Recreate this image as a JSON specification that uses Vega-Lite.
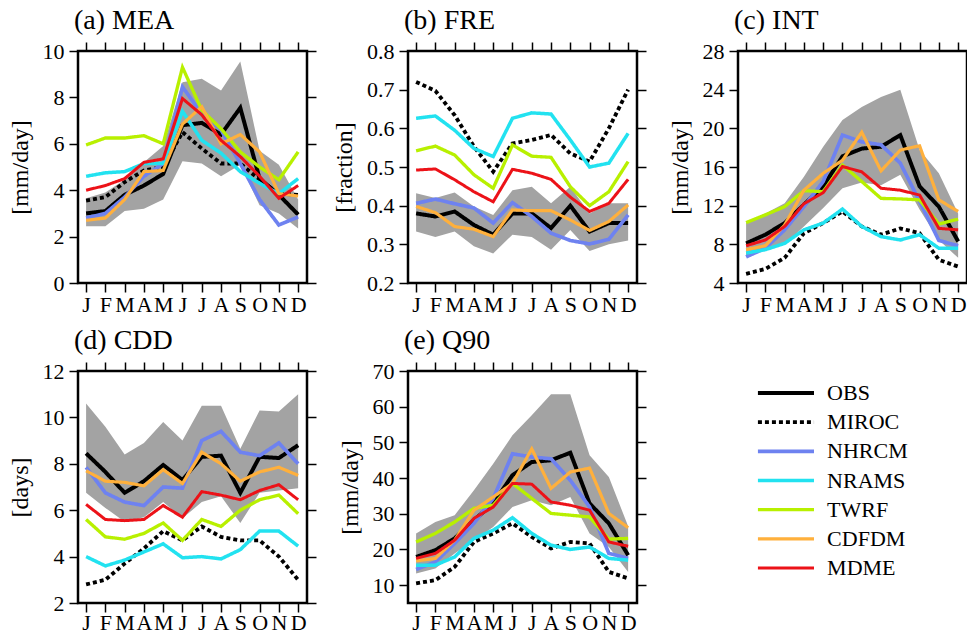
{
"$schema": "https://vega.github.io/schema/vega-lite/v6.json",
"background": "white",
"padding": {"left": 6, "top": 5, "right": 0, "bottom": 0},
"datasets": {"d": [
{"p":"a","m":1,"OBS":3.0,"MIROC":3.55,"NHRCM":2.8,"NRAMS":4.6,"TWRF":5.95,"CDFDM":2.7,"MDME":4.0,"lo":2.45,"hi":3.65},
{"p":"a","m":2,"OBS":3.1,"MIROC":3.7,"NHRCM":3.0,"NRAMS":4.75,"TWRF":6.25,"CDFDM":2.8,"MDME":4.2,"lo":2.45,"hi":3.9},
{"p":"a","m":3,"OBS":3.8,"MIROC":4.35,"NHRCM":3.7,"NRAMS":4.8,"TWRF":6.25,"CDFDM":3.6,"MDME":4.5,"lo":3.1,"hi":4.45},
{"p":"a","m":4,"OBS":4.2,"MIROC":4.85,"NHRCM":4.6,"NRAMS":5.15,"TWRF":6.35,"CDFDM":4.8,"MDME":5.2,"lo":3.2,"hi":5.2},
{"p":"a","m":5,"OBS":4.7,"MIROC":5.0,"NHRCM":5.15,"NRAMS":5.15,"TWRF":6.0,"CDFDM":4.85,"MDME":5.35,"lo":3.6,"hi":5.9},
{"p":"a","m":6,"OBS":6.8,"MIROC":6.5,"NHRCM":8.45,"NRAMS":7.4,"TWRF":9.3,"CDFDM":6.85,"MDME":7.95,"lo":5.25,"hi":8.65},
{"p":"a","m":7,"OBS":6.9,"MIROC":5.8,"NHRCM":7.3,"NRAMS":6.15,"TWRF":7.45,"CDFDM":7.6,"MDME":7.25,"lo":5.15,"hi":8.8},
{"p":"a","m":8,"OBS":6.4,"MIROC":5.15,"NHRCM":6.6,"NRAMS":5.6,"TWRF":6.65,"CDFDM":6.0,"MDME":6.15,"lo":4.6,"hi":8.3},
{"p":"a","m":9,"OBS":7.55,"MIROC":5.15,"NHRCM":5.15,"NRAMS":4.8,"TWRF":5.65,"CDFDM":6.4,"MDME":5.45,"lo":5.1,"hi":9.55},
{"p":"a","m":10,"OBS":4.5,"MIROC":4.45,"NHRCM":3.6,"NRAMS":4.3,"TWRF":5.0,"CDFDM":5.65,"MDME":4.6,"lo":3.35,"hi":5.7},
{"p":"a","m":11,"OBS":3.8,"MIROC":3.85,"NHRCM":2.5,"NRAMS":3.85,"TWRF":4.45,"CDFDM":3.85,"MDME":3.65,"lo":3.0,"hi":5.1},
{"p":"a","m":12,"OBS":2.95,"MIROC":3.8,"NHRCM":2.85,"NRAMS":4.5,"TWRF":5.65,"CDFDM":3.75,"MDME":4.2,"lo":2.35,"hi":3.6},
{"p":"b","m":1,"OBS":0.38,"MIROC":0.72,"NHRCM":0.406,"NRAMS":0.626,"TWRF":0.542,"CDFDM":0.398,"MDME":0.492,"lo":0.333,"hi":0.432},
{"p":"b","m":2,"OBS":0.372,"MIROC":0.697,"NHRCM":0.417,"NRAMS":0.632,"TWRF":0.554,"CDFDM":0.382,"MDME":0.495,"lo":0.319,"hi":0.42},
{"p":"b","m":3,"OBS":0.385,"MIROC":0.634,"NHRCM":0.405,"NRAMS":0.595,"TWRF":0.531,"CDFDM":0.346,"MDME":0.467,"lo":0.333,"hi":0.434},
{"p":"b","m":4,"OBS":0.35,"MIROC":0.553,"NHRCM":0.394,"NRAMS":0.548,"TWRF":0.48,"CDFDM":0.339,"MDME":0.436,"lo":0.295,"hi":0.398},
{"p":"b","m":5,"OBS":0.325,"MIROC":0.488,"NHRCM":0.355,"NRAMS":0.527,"TWRF":0.445,"CDFDM":0.32,"MDME":0.41,"lo":0.276,"hi":0.376},
{"p":"b","m":6,"OBS":0.38,"MIROC":0.561,"NHRCM":0.408,"NRAMS":0.626,"TWRF":0.557,"CDFDM":0.389,"MDME":0.494,"lo":0.325,"hi":0.44},
{"p":"b","m":7,"OBS":0.38,"MIROC":0.57,"NHRCM":0.372,"NRAMS":0.64,"TWRF":0.528,"CDFDM":0.387,"MDME":0.484,"lo":0.319,"hi":0.449},
{"p":"b","m":8,"OBS":0.342,"MIROC":0.583,"NHRCM":0.329,"NRAMS":0.637,"TWRF":0.525,"CDFDM":0.387,"MDME":0.468,"lo":0.286,"hi":0.406},
{"p":"b","m":9,"OBS":0.4,"MIROC":0.535,"NHRCM":0.31,"NRAMS":0.57,"TWRF":0.449,"CDFDM":0.363,"MDME":0.422,"lo":0.337,"hi":0.449},
{"p":"b","m":10,"OBS":0.333,"MIROC":0.514,"NHRCM":0.301,"NRAMS":0.5,"TWRF":0.4,"CDFDM":0.336,"MDME":0.385,"lo":0.283,"hi":0.38},
{"p":"b","m":11,"OBS":0.355,"MIROC":0.6,"NHRCM":0.313,"NRAMS":0.51,"TWRF":0.436,"CDFDM":0.359,"MDME":0.406,"lo":0.3,"hi":0.406},
{"p":"b","m":12,"OBS":0.355,"MIROC":0.7,"NHRCM":0.376,"NRAMS":0.587,"TWRF":0.514,"CDFDM":0.402,"MDME":0.468,"lo":0.31,"hi":0.406},
{"p":"c","m":1,"OBS":8.1,"MIROC":4.95,"NHRCM":6.7,"NRAMS":7.1,"TWRF":10.25,"CDFDM":7.45,"MDME":7.85,"lo":6.75,"hi":10.2},
{"p":"c","m":2,"OBS":9.0,"MIROC":5.45,"NHRCM":7.6,"NRAMS":7.45,"TWRF":11.05,"CDFDM":7.85,"MDME":8.45,"lo":7.45,"hi":11.2},
{"p":"c","m":3,"OBS":10.2,"MIROC":6.6,"NHRCM":9.5,"NRAMS":8.1,"TWRF":11.9,"CDFDM":10.0,"MDME":9.85,"lo":7.95,"hi":12.25},
{"p":"c","m":4,"OBS":12.1,"MIROC":9.15,"NHRCM":11.9,"NRAMS":9.5,"TWRF":13.55,"CDFDM":13.6,"MDME":12.2,"lo":9.85,"hi":15.0},
{"p":"c","m":5,"OBS":14.0,"MIROC":10.2,"NHRCM":14.5,"NRAMS":10.2,"TWRF":13.45,"CDFDM":15.35,"MDME":13.35,"lo":11.75,"hi":18.1},
{"p":"c","m":6,"OBS":17.1,"MIROC":11.4,"NHRCM":19.3,"NRAMS":11.65,"TWRF":16.2,"CDFDM":16.7,"MDME":16.05,"lo":13.8,"hi":20.85},
{"p":"c","m":7,"OBS":17.9,"MIROC":9.85,"NHRCM":18.6,"NRAMS":9.85,"TWRF":14.5,"CDFDM":19.6,"MDME":15.5,"lo":14.4,"hi":22.2},
{"p":"c","m":8,"OBS":18.1,"MIROC":9.0,"NHRCM":18.3,"NRAMS":8.8,"TWRF":12.75,"CDFDM":15.6,"MDME":13.8,"lo":14.1,"hi":23.25},
{"p":"c","m":9,"OBS":19.3,"MIROC":9.65,"NHRCM":16.4,"NRAMS":8.45,"TWRF":12.7,"CDFDM":17.75,"MDME":13.6,"lo":15.2,"hi":24.0},
{"p":"c","m":10,"OBS":14.0,"MIROC":9.15,"NHRCM":12.45,"NRAMS":9.0,"TWRF":12.6,"CDFDM":18.2,"MDME":13.1,"lo":11.6,"hi":17.75},
{"p":"c","m":11,"OBS":11.9,"MIROC":6.4,"NHRCM":8.4,"NRAMS":7.6,"TWRF":10.1,"CDFDM":12.6,"MDME":9.65,"lo":8.45,"hi":15.35},
{"p":"c","m":12,"OBS":8.3,"MIROC":5.7,"NHRCM":7.85,"NRAMS":7.6,"TWRF":10.6,"CDFDM":11.4,"MDME":9.5,"lo":6.6,"hi":11.2},
{"p":"d","m":1,"OBS":8.45,"MIROC":2.8,"NHRCM":7.85,"NRAMS":4.0,"TWRF":5.6,"CDFDM":7.7,"MDME":6.25,"lo":6.75,"hi":10.6},
{"p":"d","m":2,"OBS":7.65,"MIROC":3.0,"NHRCM":6.75,"NRAMS":3.6,"TWRF":4.85,"CDFDM":7.25,"MDME":5.6,"lo":6.1,"hi":9.6},
{"p":"d","m":3,"OBS":6.75,"MIROC":3.7,"NHRCM":6.35,"NRAMS":3.85,"TWRF":4.75,"CDFDM":7.2,"MDME":5.55,"lo":5.5,"hi":8.4},
{"p":"d","m":4,"OBS":7.25,"MIROC":4.35,"NHRCM":6.2,"NRAMS":4.2,"TWRF":5.0,"CDFDM":7.05,"MDME":5.6,"lo":5.7,"hi":8.9},
{"p":"d","m":5,"OBS":7.95,"MIROC":5.1,"NHRCM":7.0,"NRAMS":4.55,"TWRF":5.45,"CDFDM":7.75,"MDME":6.2,"lo":6.35,"hi":9.8},
{"p":"d","m":6,"OBS":7.3,"MIROC":4.7,"NHRCM":6.95,"NRAMS":3.95,"TWRF":4.7,"CDFDM":7.15,"MDME":5.7,"lo":5.65,"hi":9.0},
{"p":"d","m":7,"OBS":8.3,"MIROC":5.3,"NHRCM":9.0,"NRAMS":4.0,"TWRF":5.6,"CDFDM":8.5,"MDME":6.8,"lo":6.35,"hi":10.5},
{"p":"d","m":8,"OBS":8.35,"MIROC":4.85,"NHRCM":9.4,"NRAMS":3.9,"TWRF":5.3,"CDFDM":8.0,"MDME":6.65,"lo":6.6,"hi":10.5},
{"p":"d","m":9,"OBS":6.75,"MIROC":4.7,"NHRCM":8.5,"NRAMS":4.3,"TWRF":6.0,"CDFDM":7.25,"MDME":6.45,"lo":5.45,"hi":8.65},
{"p":"d","m":10,"OBS":8.3,"MIROC":4.7,"NHRCM":8.35,"NRAMS":5.1,"TWRF":6.45,"CDFDM":7.65,"MDME":6.85,"lo":6.75,"hi":10.3},
{"p":"d","m":11,"OBS":8.25,"MIROC":4.0,"NHRCM":8.9,"NRAMS":5.1,"TWRF":6.65,"CDFDM":7.85,"MDME":7.1,"lo":6.85,"hi":10.25},
{"p":"d","m":12,"OBS":8.8,"MIROC":3.0,"NHRCM":8.0,"NRAMS":4.45,"TWRF":5.85,"CDFDM":7.5,"MDME":6.45,"lo":6.95,"hi":11.0},
{"p":"e","m":1,"OBS":17.9,"MIROC":10.5,"NHRCM":14.4,"NRAMS":15.6,"TWRF":22.1,"CDFDM":16.8,"MDME":17.5,"lo":13.3,"hi":24.5},
{"p":"e","m":2,"OBS":19.8,"MIROC":11.4,"NHRCM":16.5,"NRAMS":15.6,"TWRF":24.5,"CDFDM":17.5,"MDME":18.9,"lo":14.7,"hi":27.7},
{"p":"e","m":3,"OBS":23.1,"MIROC":15.1,"NHRCM":21.7,"NRAMS":17.9,"TWRF":27.7,"CDFDM":22.6,"MDME":22.6,"lo":18.9,"hi":29.6},
{"p":"e","m":4,"OBS":28.2,"MIROC":22.1,"NHRCM":27.3,"NRAMS":23.1,"TWRF":31.5,"CDFDM":31.0,"MDME":28.7,"lo":22.6,"hi":36.6},
{"p":"e","m":5,"OBS":32.9,"MIROC":24.5,"NHRCM":34.3,"NRAMS":25.4,"TWRF":32.4,"CDFDM":34.7,"MDME":31.9,"lo":26.3,"hi":44.0},
{"p":"e","m":6,"OBS":40.8,"MIROC":27.3,"NHRCM":46.8,"NRAMS":28.9,"TWRF":38.5,"CDFDM":38.5,"MDME":38.5,"lo":31.9,"hi":52.0},
{"p":"e","m":7,"OBS":44.5,"MIROC":23.5,"NHRCM":45.9,"NRAMS":24.5,"TWRF":34.3,"CDFDM":48.2,"MDME":38.3,"lo":33.8,"hi":57.6},
{"p":"e","m":8,"OBS":45.0,"MIROC":20.3,"NHRCM":45.4,"NRAMS":21.2,"TWRF":30.1,"CDFDM":37.1,"MDME":33.3,"lo":32.4,"hi":63.5},
{"p":"e","m":9,"OBS":47.1,"MIROC":22.1,"NHRCM":39.4,"NRAMS":20.0,"TWRF":29.6,"CDFDM":41.7,"MDME":32.4,"lo":34.7,"hi":63.5},
{"p":"e","m":10,"OBS":32.9,"MIROC":21.7,"NHRCM":31.9,"NRAMS":20.7,"TWRF":29.1,"CDFDM":42.8,"MDME":31.0,"lo":24.5,"hi":46.4},
{"p":"e","m":11,"OBS":27.3,"MIROC":13.7,"NHRCM":18.9,"NRAMS":17.5,"TWRF":22.9,"CDFDM":30.1,"MDME":22.1,"lo":20.7,"hi":40.3},
{"p":"e","m":12,"OBS":18.4,"MIROC":11.9,"NHRCM":17.5,"NRAMS":17.0,"TWRF":23.1,"CDFDM":26.1,"MDME":20.9,"lo":13.7,"hi":26.5}
],
"leg": [
{"series":"OBS","i":0},{"series":"MIROC","i":1},{"series":"NHRCM","i":2},{"series":"NRAMS","i":3},{"series":"TWRF","i":4},{"series":"CDFDM","i":5},{"series":"MDME","i":6}
]},
"data": {"name": "d"},
"columns": 3,
"bounds": "flush",
"spacing": {"row": 88, "column": 101},
"concat": [
{"title": {"text": "(a) MEA"}, "width": 229, "height": 232,
 "transform": [{"filter": "datum.p == 'a'"}],
 "layer": [
  {"mark": {"type": "area", "color": "#a3a3a3", "opacity": 1},
   "encoding": {
    "x": {"field": "m", "type": "quantitative", "scale": {"domain": [0.58, 12.46], "nice": false, "zero": false}, "axis": {"orient": "bottom", "values": [1,2,3,4,5,6,7,8,9,10,11,12], "labelExpr": "['J','F','M','A','M','J','J','A','S','O','N','D'][datum.value-1]", "title": null, "labelPadding": 2}},
    "y": {"field": "lo", "type": "quantitative", "scale": {"domain": [0, 10], "nice": false, "zero": false}, "axis": {"orient": "left", "values": [0,2,4,6,8,10], "title": "[mm/day]"}},
    "y2": {"field": "hi"}}},
  {"transform": [{"fold": ["OBS","MIROC","NHRCM","NRAMS","TWRF","CDFDM","MDME"], "as": ["series","value"]}],
   "mark": {"type": "line"},
   "encoding": {
    "x": {"field": "m", "type": "quantitative", "axis": {"orient": "top", "values": [1,2,3,4,5,6,7,8,9,10,11,12], "labels": false, "title": null}},
    "y": {"field": "value", "type": "quantitative", "axis": {"orient": "right", "values": [0,2,4,6,8,10], "labels": false, "title": null}},
    "color": {"field": "series", "type": "nominal", "scale": {"domain": ["OBS","MIROC","NHRCM","NRAMS","TWRF","CDFDM","MDME"], "range": ["#000000","#000000","#6e82f0","#22e2f0","#b8f000","#ffb03c","#ec1218"]}, "legend": null},
    "strokeDash": {"field": "series", "type": "nominal", "scale": {"domain": ["OBS","MIROC","NHRCM","NRAMS","TWRF","CDFDM","MDME"], "range": [[1,0],[4,3],[1,0],[1,0],[1,0],[1,0],[1,0]]}, "legend": null},
    "strokeWidth": {"field": "series", "type": "nominal", "scale": {"domain": ["OBS","MIROC","NHRCM","NRAMS","TWRF","CDFDM","MDME"], "range": [4,3,2.6,2.6,2.6,2.6,2.6]}, "legend": null}}}
 ],
 "resolve": {"axis": {"x": "independent", "y": "independent"}}},
{"title": {"text": "(b) FRE"}, "width": 229, "height": 232,
 "transform": [{"filter": "datum.p == 'b'"}],
 "layer": [
  {"mark": {"type": "area", "color": "#a3a3a3", "opacity": 1},
   "encoding": {
    "x": {"field": "m", "type": "quantitative", "scale": {"domain": [0.58, 12.46], "nice": false, "zero": false}, "axis": {"orient": "bottom", "values": [1,2,3,4,5,6,7,8,9,10,11,12], "labelExpr": "['J','F','M','A','M','J','J','A','S','O','N','D'][datum.value-1]", "title": null, "labelPadding": 2}},
    "y": {"field": "lo", "type": "quantitative", "scale": {"domain": [0.2, 0.8], "nice": false, "zero": false}, "axis": {"orient": "left", "values": [0.2,0.3,0.4,0.5,0.6,0.7,0.8], "format": ".1f", "title": "[fraction]"}},
    "y2": {"field": "hi"}}},
  {"transform": [{"fold": ["OBS","MIROC","NHRCM","NRAMS","TWRF","CDFDM","MDME"], "as": ["series","value"]}],
   "mark": {"type": "line"},
   "encoding": {
    "x": {"field": "m", "type": "quantitative", "axis": {"orient": "top", "values": [1,2,3,4,5,6,7,8,9,10,11,12], "labels": false, "title": null}},
    "y": {"field": "value", "type": "quantitative", "axis": {"orient": "right", "values": [0.2,0.3,0.4,0.5,0.6,0.7,0.8], "labels": false, "title": null}},
    "color": {"field": "series", "type": "nominal", "legend": null},
    "strokeDash": {"field": "series", "type": "nominal", "legend": null},
    "strokeWidth": {"field": "series", "type": "nominal", "legend": null}}}
 ],
 "resolve": {"axis": {"x": "independent", "y": "independent"}}},
{"title": {"text": "(c) INT"}, "width": 229, "height": 232,
 "transform": [{"filter": "datum.p == 'c'"}],
 "layer": [
  {"mark": {"type": "area", "color": "#a3a3a3", "opacity": 1},
   "encoding": {
    "x": {"field": "m", "type": "quantitative", "scale": {"domain": [0.58, 12.46], "nice": false, "zero": false}, "axis": {"orient": "bottom", "values": [1,2,3,4,5,6,7,8,9,10,11,12], "labelExpr": "['J','F','M','A','M','J','J','A','S','O','N','D'][datum.value-1]", "title": null, "labelPadding": 2}},
    "y": {"field": "lo", "type": "quantitative", "scale": {"domain": [4, 28], "nice": false, "zero": false}, "axis": {"orient": "left", "values": [4,8,12,16,20,24,28], "title": "[mm/day]"}},
    "y2": {"field": "hi"}}},
  {"transform": [{"fold": ["OBS","MIROC","NHRCM","NRAMS","TWRF","CDFDM","MDME"], "as": ["series","value"]}],
   "mark": {"type": "line"},
   "encoding": {
    "x": {"field": "m", "type": "quantitative", "axis": {"orient": "top", "values": [1,2,3,4,5,6,7,8,9,10,11,12], "labels": false, "title": null}},
    "y": {"field": "value", "type": "quantitative", "axis": {"orient": "right", "values": [4,8,12,16,20,24,28], "labels": false, "title": null}},
    "color": {"field": "series", "type": "nominal", "legend": null},
    "strokeDash": {"field": "series", "type": "nominal", "legend": null},
    "strokeWidth": {"field": "series", "type": "nominal", "legend": null}}}
 ],
 "resolve": {"axis": {"x": "independent", "y": "independent"}}},
{"title": {"text": "(d) CDD"}, "width": 229, "height": 232,
 "transform": [{"filter": "datum.p == 'd'"}],
 "layer": [
  {"mark": {"type": "area", "color": "#a3a3a3", "opacity": 1},
   "encoding": {
    "x": {"field": "m", "type": "quantitative", "scale": {"domain": [0.58, 12.46], "nice": false, "zero": false}, "axis": {"orient": "bottom", "values": [1,2,3,4,5,6,7,8,9,10,11,12], "labelExpr": "['J','F','M','A','M','J','J','A','S','O','N','D'][datum.value-1]", "title": null, "labelPadding": 0}},
    "y": {"field": "lo", "type": "quantitative", "scale": {"domain": [2, 12], "nice": false, "zero": false}, "axis": {"orient": "left", "values": [2,4,6,8,10,12], "title": "[days]"}},
    "y2": {"field": "hi"}}},
  {"transform": [{"fold": ["OBS","MIROC","NHRCM","NRAMS","TWRF","CDFDM","MDME"], "as": ["series","value"]}],
   "mark": {"type": "line"},
   "encoding": {
    "x": {"field": "m", "type": "quantitative", "axis": {"orient": "top", "values": [1,2,3,4,5,6,7,8,9,10,11,12], "labels": false, "title": null}},
    "y": {"field": "value", "type": "quantitative", "axis": {"orient": "right", "values": [2,4,6,8,10,12], "labels": false, "title": null}},
    "color": {"field": "series", "type": "nominal", "legend": null},
    "strokeDash": {"field": "series", "type": "nominal", "legend": null},
    "strokeWidth": {"field": "series", "type": "nominal", "legend": null}}}
 ],
 "resolve": {"axis": {"x": "independent", "y": "independent"}}},
{"title": {"text": "(e) Q90"}, "width": 229, "height": 232,
 "transform": [{"filter": "datum.p == 'e'"}],
 "layer": [
  {"mark": {"type": "area", "color": "#a3a3a3", "opacity": 1},
   "encoding": {
    "x": {"field": "m", "type": "quantitative", "scale": {"domain": [0.58, 12.46], "nice": false, "zero": false}, "axis": {"orient": "bottom", "values": [1,2,3,4,5,6,7,8,9,10,11,12], "labelExpr": "['J','F','M','A','M','J','J','A','S','O','N','D'][datum.value-1]", "title": null, "labelPadding": 0}},
    "y": {"field": "lo", "type": "quantitative", "scale": {"domain": [5, 70], "nice": false, "zero": false}, "axis": {"orient": "left", "values": [10,20,30,40,50,60,70], "title": "[mm/day]"}},
    "y2": {"field": "hi"}}},
  {"transform": [{"fold": ["OBS","MIROC","NHRCM","NRAMS","TWRF","CDFDM","MDME"], "as": ["series","value"]}],
   "mark": {"type": "line"},
   "encoding": {
    "x": {"field": "m", "type": "quantitative", "axis": {"orient": "top", "values": [1,2,3,4,5,6,7,8,9,10,11,12], "labels": false, "title": null}},
    "y": {"field": "value", "type": "quantitative", "axis": {"orient": "right", "values": [10,20,30,40,50,60,70], "labels": false, "title": null}},
    "color": {"field": "series", "type": "nominal", "legend": null},
    "strokeDash": {"field": "series", "type": "nominal", "legend": null},
    "strokeWidth": {"field": "series", "type": "nominal", "legend": null}}}
 ],
 "resolve": {"axis": {"x": "independent", "y": "independent"}}},
{"width": 229, "height": 232,
 "data": {"name": "leg"},
 "view": {"stroke": null},
 "layer": [
  {"mark": {"type": "rule"},
   "encoding": {
    "x": {"datum": 0.087, "type": "quantitative", "scale": {"domain": [0, 1], "nice": false, "zero": false}, "axis": null},
    "x2": {"datum": 0.332},
    "y": {"field": "i", "type": "quantitative", "scale": {"domain": [-0.754, 7.199], "nice": false, "zero": false, "reverse": true}, "axis": null},
    "color": {"field": "series", "type": "nominal", "legend": null},
    "strokeDash": {"field": "series", "type": "nominal", "legend": null},
    "strokeWidth": {"field": "series", "type": "nominal", "legend": null}}},
  {"mark": {"type": "text", "align": "left", "baseline": "middle", "fontSize": 22, "color": "#000000"},
   "encoding": {
    "x": {"datum": 0.389, "type": "quantitative"},
    "y": {"field": "i", "type": "quantitative"},
    "text": {"field": "series"}}}
 ]}
],
"config": {
 "font": "Liberation Serif, Times New Roman, DejaVu Serif, serif",
 "view": {"stroke": "#000000", "strokeWidth": 2.5},
 "axis": {"domain": false, "grid": false, "tickColor": "#000000", "tickSize": 9, "tickWidth": 1.5, "labelFont": "Liberation Serif, Times New Roman, DejaVu Serif, serif", "labelFontSize": 22, "labelColor": "#000000", "labelPadding": 5, "labelFlush": false, "labelOverlap": false, "titleFont": "Liberation Serif, Times New Roman, DejaVu Serif, serif", "titleFontSize": 24, "titleFontWeight": "normal", "titleColor": "#000000", "titlePadding": 10},
 "title": {"font": "Liberation Serif, Times New Roman, DejaVu Serif, serif", "fontSize": 28, "fontWeight": "normal", "color": "#000000", "anchor": "start", "frame": "group", "baseline": "alphabetic", "offset": 5, "dx": -4},
 "text": {"font": "Liberation Serif, Times New Roman, DejaVu Serif, serif"}
}
}
